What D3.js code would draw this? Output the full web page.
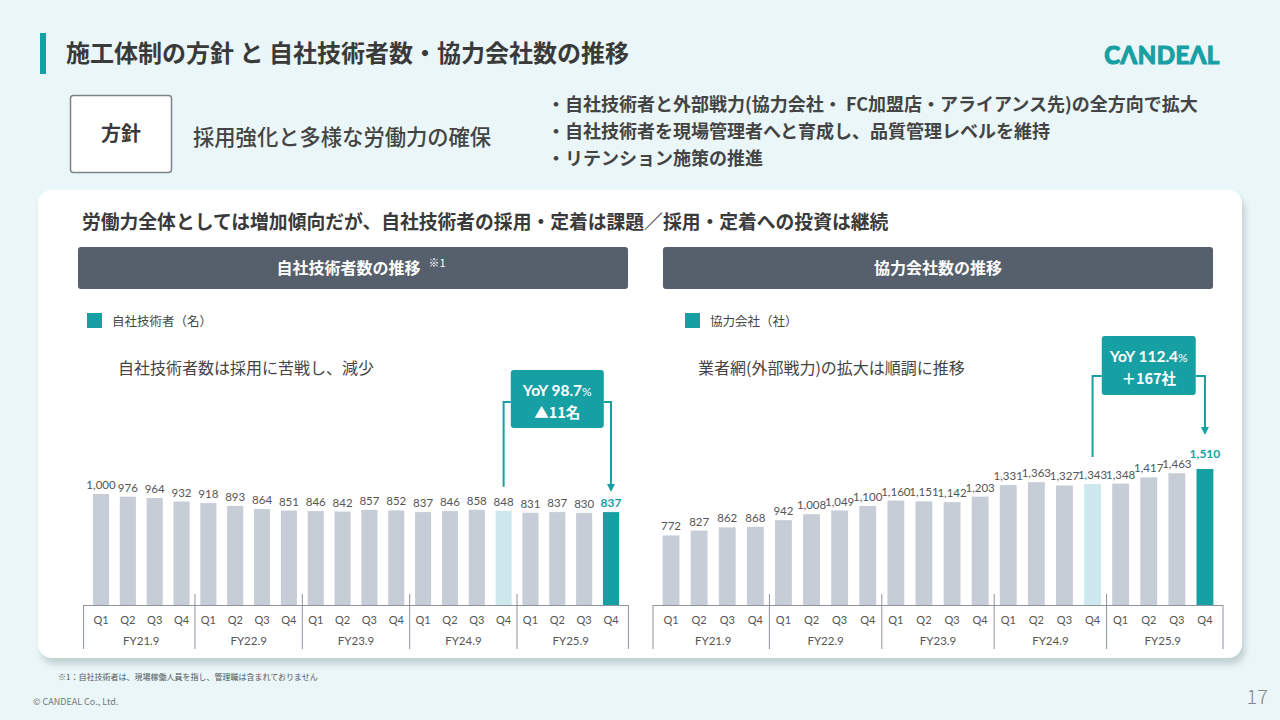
<!DOCTYPE html>
<html>
<head>
<meta charset="utf-8">
<script src="https://cdn.jsdelivr.net/npm/d3@7"></script>
<style>
  body { margin: 0; background: #eaf6f7; }
  svg text { font-family: "Noto Sans CJK JP", "Noto Sans", sans-serif; }
  svg text.num { font-family: Lato, "Noto Sans", sans-serif; }
</style>
</head>
<body>
<div id="vis"></div>
<script>
// data
const quarters = ['Q1', 'Q2', 'Q3', 'Q4'];
const fiscalYears = ['FY21.9', 'FY22.9', 'FY23.9', 'FY24.9', 'FY25.9'];
const engineers = [1000, 976, 964, 932, 918, 893, 864, 851, 846, 842, 857, 852, 837, 846, 858, 848, 831, 837, 830, 837];
const partners = [772, 827, 862, 868, 942, 1008, 1049, 1100, 1160, 1151, 1142, 1203, 1331, 1363, 1327, 1343, 1348, 1417, 1463, 1510];
const bullets = [
  '・自社技術者と外部戦力(協力会社・ FC加盟店・アライアンス先)の全方向で拡大',
  '・自社技術者を現場管理者へと育成し、品質管理レベルを維持',
  '・リテンション施策の推進'
];

const teal = '#17a0a4';
const grayBar = '#c6cdd7';
const lightBar = '#cde9ee';
const textCol = '#3a3a3a';

const svg = d3.select('#vis').append('svg')
  .attr('width', 1280)
  .attr('height', 720);

const defs = svg.append('defs');
defs.append('filter').attr('id', 'shadow')
  .attr('x', '-5%').attr('y', '-5%').attr('width', '110%').attr('height', '115%')
  .append('feDropShadow')
  .attr('dx', 3).attr('dy', 6).attr('stdDeviation', 3)
  .attr('flood-color', '#8fa0a3').attr('flood-opacity', 0.45);

// title
svg.append('rect').attr('x', 40).attr('y', 33).attr('width', 6).attr('height', 41).attr('fill', teal);
svg.append('text').attr('x', 66).attr('y', 62)
  .attr('font-size', 24).attr('font-weight', 700).attr('fill', textCol)
  .text('施工体制の方針 と 自社技術者数・協力会社数の推移');

svg.append('text').attr('x', 1162).attr('y', 64)
  .attr('text-anchor', 'middle')
  .attr('font-size', 24).attr('font-weight', 700).attr('fill', teal)
  .attr('stroke', teal).attr('stroke-width', 1.2)
  .style('font-family', 'Lato, sans-serif')
  .style('letter-spacing', '0.5px')
  .text('CΛNDEΛL');

// policy
svg.append('rect').attr('x', 70.5).attr('y', 95.5).attr('width', 101).attr('height', 77)
  .attr('rx', 3).attr('fill', '#fff').attr('stroke', '#7d838b').attr('stroke-width', 1.5);
svg.append('text').attr('x', 121).attr('y', 141).attr('text-anchor', 'middle')
  .attr('font-size', 20).attr('font-weight', 700).attr('fill', textCol).text('方針');
svg.append('text').attr('x', 193).attr('y', 144.5)
  .attr('font-size', 21.3).attr('font-weight', 500).attr('fill', '#444').text('採用強化と多様な労働力の確保');

svg.selectAll('.bullet').data(bullets).enter().append('text')
  .attr('x', 547).attr('y', (d, i) => 110.5 + i * 27)
  .attr('font-size', 18).attr('font-weight', 700).attr('fill', '#444')
  .text(d => d);

// white panel
svg.append('rect').attr('x', 38).attr('y', 190).attr('width', 1204).attr('height', 468)
  .attr('rx', 14).attr('fill', '#fff').attr('filter', 'url(#shadow)');

svg.append('text').attr('x', 82).attr('y', 229)
  .attr('font-size', 18.8).attr('font-weight', 700).attr('fill', textCol)
  .text('労働力全体としては増加傾向だが、自社技術者の採用・定着は課題／採用・定着への投資は継続');

// footer
svg.append('text').attr('x', 58).attr('y', 680).attr('font-size', 8).attr('fill', '#555')
  .text('※1：自社技術者は、現場稼働人員を指し、管理職は含まれておりません');
svg.append('text').attr('x', 33).attr('y', 705).attr('font-size', 9).attr('fill', '#777')
  .text('© CANDEAL Co., Ltd.');
svg.append('text').attr('x', 1268).attr('y', 704).attr('text-anchor', 'end')
  .attr('font-size', 20).attr('font-weight', 300).attr('fill', '#888').text('17');

function barChart(c) {
  const g = svg.append('g');
  const n = c.values.length;
  const highlight = n - 1, compare = n - 5;

  // header bar
  g.append('rect').attr('x', c.headX).attr('y', 247).attr('width', 550).attr('height', 42)
    .attr('rx', 3).attr('fill', '#56606c');
  const ht = g.append('text').attr('x', c.headX + 275 + (c.note ? 8 : 0)).attr('y', 274)
    .attr('text-anchor', 'middle').attr('font-size', 16).attr('font-weight', 700).attr('fill', '#fff')
    .text(c.title);
  if (c.note) {
    ht.append('tspan').attr('dx', 8).attr('dy', -7).attr('font-size', 11).attr('font-weight', 400).text(c.note);
  }

  // legend
  g.append('rect').attr('x', c.legX).attr('y', 313).attr('width', 15).attr('height', 15).attr('fill', teal);
  g.append('text').attr('x', c.legX + 25).attr('y', 325.5)
    .attr('font-size', 12.5).attr('fill', '#444').text(c.legend);

  g.append('text').attr('x', c.noteX).attr('y', 374)
    .attr('font-size', 16).attr('fill', '#444').text(c.comment);

  const x = d3.scaleBand()
    .domain(d3.range(n))
    .range(c.xRange)
    .paddingInner(0.4)
    .paddingOuter(0.2);
  const y = d3.scaleLinear().domain([0, c.yMax]).range([605, c.yTop]);
  const step = x.step();
  const a = c.xRange[0], b = c.xRange[1];

  g.selectAll('.bar').data(c.values).enter().append('rect')
    .attr('x', (d, i) => x(i))
    .attr('y', d => y(d))
    .attr('width', x.bandwidth())
    .attr('height', d => y(0) - y(d))
    .attr('fill', (d, i) => i === highlight ? teal : i === compare ? lightBar : grayBar);

  g.selectAll('.val').data(c.values).enter().append('text')
    .attr('class', 'num')
    .attr('x', (d, i) => x(i) + x.bandwidth() / 2)
    .attr('y', (d, i) => y(d) - (i === highlight ? c.hiGap : 5))
    .attr('text-anchor', 'middle')
    .attr('font-size', (d, i) => i === highlight ? 12 : 11.5)
    .attr('font-weight', (d, i) => i === highlight ? 700 : 400)
    .attr('fill', (d, i) => i === highlight ? teal : '#555')
    .text(d => d3.format(',')(d));

  // category axis
  const axisCol = '#8c949c';
  g.append('line').attr('x1', a - 4).attr('x2', b + 4).attr('y1', 605.5).attr('y2', 605.5)
    .attr('stroke', axisCol).attr('stroke-width', 1);
  [a - 4, b + 4].forEach(px => {
    g.append('line').attr('x1', px).attr('x2', px).attr('y1', 605).attr('y2', 649)
      .attr('stroke', axisCol).attr('stroke-width', 1);
  });
  d3.range(1, fiscalYears.length).forEach(k => {
    const px = a + k * 4 * step;
    g.append('line').attr('x1', px).attr('x2', px).attr('y1', 594).attr('y2', 649)
      .attr('stroke', axisCol).attr('stroke-width', 1);
  });

  g.selectAll('.q').data(c.values).enter().append('text')
    .attr('class', 'num')
    .attr('x', (d, i) => x(i) + x.bandwidth() / 2)
    .attr('y', 624)
    .attr('text-anchor', 'middle').attr('font-size', 11).attr('fill', '#555')
    .text((d, i) => quarters[i % 4]);

  g.selectAll('.fy').data(fiscalYears).enter().append('text')
    .attr('class', 'num')
    .attr('x', (d, k) => a + (k * 4 + 2) * step)
    .attr('y', 645)
    .attr('text-anchor', 'middle').attr('font-size', 11.5).attr('fill', '#555')
    .text(d => d);

  // yoy callout
  const xa = x(compare) + x.bandwidth() / 2;
  const xb = x(highlight) + x.bandwidth() / 2;
  const cx = (xa + xb) / 2;
  const bw = c.box.w, bh = c.box.h, bt = c.box.top, legY = c.box.legY;
  const tipY = y(c.values[highlight]) - c.tipGap;
  const baseY = y(c.values[compare]) - c.baseGap;

  g.append('path')
    .attr('d', `M${cx - bw / 2},${legY}H${xa}V${baseY}`)
    .attr('fill', 'none').attr('stroke', teal).attr('stroke-width', 2);
  g.append('path')
    .attr('d', `M${cx + bw / 2},${legY}H${xb}V${tipY - 6}`)
    .attr('fill', 'none').attr('stroke', teal).attr('stroke-width', 2);
  g.append('path')
    .attr('d', `M${xb - 4},${tipY - 8}L${xb + 4},${tipY - 8}L${xb},${tipY}Z`)
    .attr('fill', teal);

  g.append('rect').attr('x', cx - bw / 2).attr('y', bt).attr('width', bw).attr('height', bh)
    .attr('rx', 3).attr('fill', teal);
  const t1 = g.append('text').attr('class', 'num')
    .attr('x', cx).attr('y', bt + 26).attr('text-anchor', 'middle')
    .attr('font-size', 15.5).attr('font-weight', 700).attr('fill', '#fff')
    .text(c.yoy);
  t1.append('tspan').attr('font-size', 12).attr('font-weight', 400).text('%');
  g.append('text')
    .attr('x', cx).attr('y', bt + 48).attr('text-anchor', 'middle')
    .attr('font-size', 14.5).attr('font-weight', 700).attr('fill', '#fff')
    .text(c.diff);
}

barChart({
  values: engineers,
  title: '自社技術者数の推移',
  note: '※1',
  legend: '自社技術者（名）',
  comment: '自社技術者数は採用に苦戦し、減少',
  headX: 78, legX: 87, noteX: 118,
  xRange: [87.6, 624.4],
  yMax: 1000, yTop: 494,
  hiGap: 5,
  box: { w: 93, h: 58, top: 370, legY: 402 },
  tipGap: 20, baseGap: 24,
  yoy: 'YoY 98.7',
  diff: '▲11名'
});

barChart({
  values: partners,
  title: '協力会社数の推移',
  legend: '協力会社（社）',
  comment: '業者網(外部戦力)の拡大は順調に推移',
  headX: 663, legX: 685, noteX: 698,
  xRange: [657, 1219],
  yMax: 1510, yTop: 469,
  hiGap: 11,
  box: { w: 94, h: 59, top: 336, legY: 376 },
  tipGap: 34, baseGap: 27,
  yoy: 'YoY 112.4',
  diff: '＋167社'
});
</script>
</body>
</html>
